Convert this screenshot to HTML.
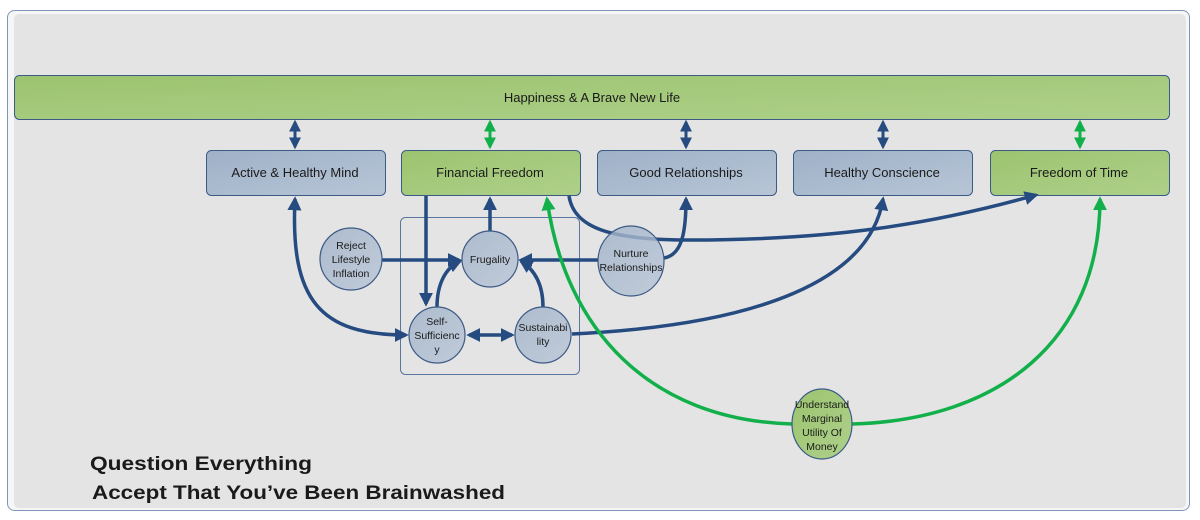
<!DOCTYPE html>
<html><head><meta charset="utf-8"><style>
html,body{margin:0;padding:0;background:#fff;}
svg{display:block;}
text{font-family:"Liberation Sans",sans-serif;fill:#1a1a1a;}
</style></head><body>
<svg width="1200" height="520" viewBox="0 0 1200 520" xmlns="http://www.w3.org/2000/svg">
<defs>
<linearGradient id="gb" x1="0" y1="0" x2="1" y2="1"><stop offset="0" stop-color="#9fb1c8"/><stop offset="1" stop-color="#b7c5d6"/></linearGradient>
<linearGradient id="gg" x1="0" y1="0" x2="1" y2="1"><stop offset="0" stop-color="#9cc46f"/><stop offset="1" stop-color="#aed08a"/></linearGradient>
<marker id="ab" viewBox="0 0 10 10" refX="8" refY="5" markerWidth="4" markerHeight="4" orient="auto-start-reverse"><path d="M0,0 L10,5 L0,10 z" fill="#254b80"/></marker>
<marker id="ag" viewBox="0 0 10 10" refX="8" refY="5" markerWidth="4" markerHeight="4" orient="auto-start-reverse"><path d="M0,0 L10,5 L0,10 z" fill="#12b04a"/></marker>
</defs>
<rect x="7.5" y="10.5" width="1182" height="500" rx="7" fill="#f6f6f6" stroke="#7f97bb"/>
<rect x="14" y="14" width="1172" height="494" rx="5" fill="#e4e4e4"/>
<rect x="14.5" y="75.5" width="1155" height="44" rx="5" fill="url(#gg)" stroke="#3c5a86"/>
<text x="592" y="102" font-size="13" text-anchor="middle">Happiness &amp; A Brave New Life</text>
<g stroke="#3c5a86">
<rect x="206.5" y="150.5" width="179" height="45" rx="5" fill="url(#gb)"/>
<rect x="401.5" y="150.5" width="179" height="45" rx="5" fill="url(#gg)"/>
<rect x="597.5" y="150.5" width="179" height="45" rx="5" fill="url(#gb)"/>
<rect x="793.5" y="150.5" width="179" height="45" rx="5" fill="url(#gb)"/>
<rect x="990.5" y="150.5" width="179" height="45" rx="5" fill="url(#gg)"/>
</g>
<g font-size="13" text-anchor="middle">
<text x="295" y="177">Active &amp; Healthy Mind</text>
<text x="490" y="177">Financial Freedom</text>
<text x="686" y="177">Good Relationships</text>
<text x="882" y="177">Healthy Conscience</text>
<text x="1079" y="177">Freedom of Time</text>
</g>
<g stroke-width="3" fill="none">
<line x1="295" y1="122" x2="295" y2="147" stroke="#254b80" marker-start="url(#ab)" marker-end="url(#ab)"/>
<line x1="490" y1="122" x2="490" y2="147" stroke="#12b04a" marker-start="url(#ag)" marker-end="url(#ag)"/>
<line x1="686" y1="122" x2="686" y2="147" stroke="#254b80" marker-start="url(#ab)" marker-end="url(#ab)"/>
<line x1="883" y1="122" x2="883" y2="147" stroke="#254b80" marker-start="url(#ab)" marker-end="url(#ab)"/>
<line x1="1080" y1="122" x2="1080" y2="147" stroke="#12b04a" marker-start="url(#ag)" marker-end="url(#ag)"/>
</g>
<rect x="400.5" y="217.5" width="179" height="157" rx="5" fill="none" stroke="#5a769e"/>
<g stroke="#254b80" stroke-width="3.5" fill="none">
<path d="M295,199 C290,300 320,335 406,335" marker-start="url(#ab)" marker-end="url(#ab)"/>
<path d="M426,196 L426,304" marker-end="url(#ab)"/>
<path d="M490,231 L490,199" marker-end="url(#ab)"/>
<path d="M382,260 L459,260" marker-end="url(#ab)"/>
<path d="M437,307 C437,285 445,268 460,261" marker-end="url(#ab)"/>
<path d="M543,307 C543,285 535,270 521,261" marker-end="url(#ab)"/>
<path d="M469,335 L512,335" marker-start="url(#ab)" marker-end="url(#ab)"/>
<path d="M598,260 L521,260" marker-end="url(#ab)"/>
<path d="M664,258 C682,255 686,232 686,199" marker-end="url(#ab)"/>
<path d="M569,196 C574,228 610,240 690,240 C830,240 930,225 1036,195" marker-end="url(#ab)"/>
<path d="M572,334 C760,325 870,280 883,199" marker-end="url(#ab)"/>
</g>
<g stroke="#12b04a" stroke-width="3.5" fill="none">
<path d="M792,424 C650,420 565,330 547,199" marker-end="url(#ag)"/>
<path d="M852,424 C1000,420 1100,340 1100,199" marker-end="url(#ag)"/>
</g>
<g stroke="#3c5a86" stroke-width="1.2" fill="url(#gb)" fill-opacity="0.8">
<circle cx="351" cy="259" r="31"/>
<circle cx="490" cy="259" r="28"/>
<ellipse cx="631" cy="261" rx="33" ry="35"/>
<circle cx="437" cy="335" r="28"/>
<circle cx="543" cy="335" r="28"/>
</g>
<ellipse cx="822" cy="424" rx="30" ry="35" fill="url(#gg)" stroke="#3c5a86" stroke-width="1.2"/>
<g font-size="10.5" text-anchor="middle">
<text x="351" y="249">Reject</text><text x="351" y="263">Lifestyle</text><text x="351" y="277">Inflation</text>
<text x="490" y="263">Frugality</text>
<text x="631" y="257">Nurture</text><text x="631" y="271">Relationships</text>
<text x="437" y="325">Self-</text><text x="437" y="339">Sufficienc</text><text x="437" y="353">y</text>
<text x="543" y="331">Sustainabi</text><text x="543" y="345">lity</text>
<text x="822" y="408">Understand</text><text x="822" y="422">Marginal</text><text x="822" y="436">Utility Of</text><text x="822" y="450">Money</text>
</g>
<text x="90" y="470" font-size="19" font-weight="bold" textLength="222" lengthAdjust="spacingAndGlyphs">Question Everything</text>
<text x="92" y="499" font-size="19" font-weight="bold" textLength="413" lengthAdjust="spacingAndGlyphs">Accept That You’ve Been Brainwashed</text>
</svg>
</body></html>
